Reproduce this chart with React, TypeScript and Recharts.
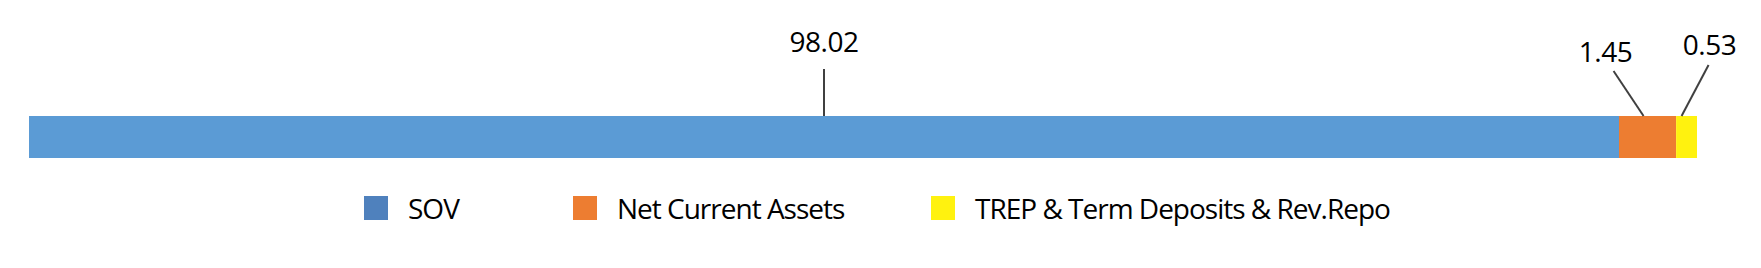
import { BarChart, Bar, XAxis, YAxis, Legend } from "recharts";

// portfolio split, in %
const categories = ["Portfolio"];
const seriesNames = ["SOV", "Net Current Assets", "TREP & Term Deposits & Rev.Repo"];
const sovValues = [98.02];
const netCurrentValues = [1.45];
const trepValues = [0.53];

// the source chart's value axis does not start at zero
const AXIS_MIN = 57.66;
const AXIS_MAX = 100;

const data = categories.map((name, i) => ({
  name,
  sov: sovValues[i],
  nca: netCurrentValues[i],
  trep: trepValues[i],
}));

const margin = { top: 116, right: 64, bottom: 110, left: 29 };
const font = "'Open Sans', 'Noto Sans', sans-serif";

const series = [
  { key: "sov", color: "#5B9BD5", legendColor: "#4F81BD", dx: 0, dy: -47, lineTop: -47 },
  { key: "nca", color: "#ED7D31", legendColor: "#ED7D31", dx: -38, dy: -54, lineTop: -45 },
  { key: "trep", color: "#FFF20F", legendColor: "#FFF20F", dx: 28, dy: -61, lineTop: -51 },
];

const legendLeft = [364, 573, 931];

const makeLabel = (idx: number) => (props: any) => {
  const { x, y, width, index } = props;
  const s = series[idx];
  // stacked labels carry the running total, so read the own value
  const value = (data[index ?? 0] as any)[s.key];
  // only the visible part of the bar counts for the centre
  const x0 = Math.max(Number(x), margin.left);
  const x1 = Number(x) + Number(width);
  const cx = (x0 + x1) / 2 + (idx === 1 ? -4 : idx === 2 ? -5 : 0);
  const top = Number(y);
  const tx = cx + s.dx;
  const lineEndX = idx === 0 ? cx : tx + (idx === 1 ? 8 : -1);
  return (
    <g>
      <line
        x1={cx}
        y1={top}
        x2={lineEndX}
        y2={top + s.lineTop}
        stroke="#404040"
        strokeWidth={2}
      />
      <text
        x={tx}
        y={top + s.dy - (idx === 0 ? 17 : 0)}
        textAnchor="middle"
        fontFamily={font}
        fontSize={28}
        letterSpacing={-0.5}
        fill="#000"
      >
        {value}
      </text>
    </g>
  );
};

const renderLegend = () => (
  <div style={{ position: "relative", width: 1761, height: 30 }}>
    {seriesNames.map((name, i) => (
      <div
        key={name}
        style={{
          position: "absolute",
          left: legendLeft[i],
          top: 0,
          display: "flex",
          alignItems: "center",
          whiteSpace: "nowrap",
        }}
      >
        <span
          style={{
            display: "inline-block",
            width: 24,
            height: 24,
            background: series[i].legendColor,
            marginRight: 20,
          }}
        />
        <span
          style={{
            fontFamily: font,
            fontSize: 28,
            letterSpacing: -1,
            color: "#000",
            lineHeight: "30px",
          }}
        >
          {name}
        </span>
      </div>
    ))}
  </div>
);

export default function App() {
  return (
    <div style={{ position: "absolute", left: 0, top: 0, background: "#fff" }}>
      <BarChart
        width={1761}
        height={268}
        data={data}
        layout="vertical"
        margin={margin}
        barCategoryGap={0}
      >
        <XAxis type="number" hide domain={[AXIS_MIN, AXIS_MAX]} allowDataOverflow />
        <YAxis type="category" dataKey="name" hide />
        <Legend
          layout="horizontal"
          verticalAlign="middle"
          align="center"
          content={renderLegend}
          wrapperStyle={{ top: 193, left: 0, width: 1761 }}
        />
        {series.map((s, i) => (
          <Bar
            key={s.key}
            dataKey={s.key}
            name={seriesNames[i]}
            stackId="a"
            fill={s.color}
            isAnimationActive={false}
            label={makeLabel(i)}
          />
        ))}
      </BarChart>
    </div>
  );
}
